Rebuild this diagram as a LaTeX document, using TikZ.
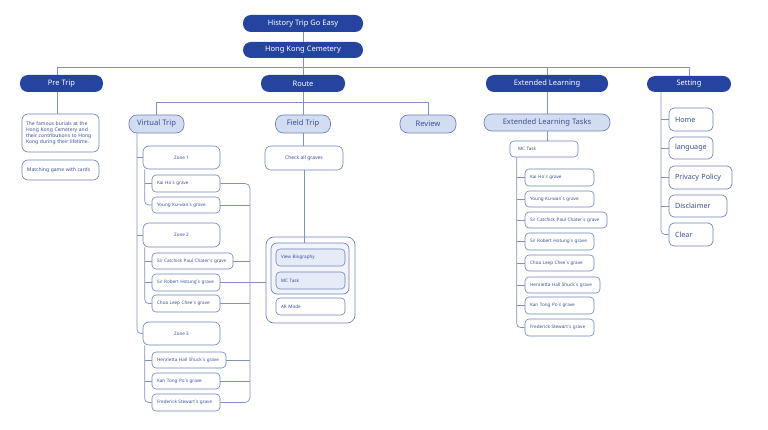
\documentclass[tikz,border=0pt]{standalone}
\usepackage{fontspec}
\setmainfont{Noto Sans}
\usetikzlibrary{calc}
\definecolor{dblue}{HTML}{2444A0}
\definecolor{lblue}{HTML}{D3DDF1}
\definecolor{bord}{HTML}{7083BA}
\definecolor{tblue}{HTML}{3B4F98}
\definecolor{lnc}{HTML}{8590C0}
\definecolor{vlight}{HTML}{F1F4FB}
\definecolor{ilight}{HTML}{E6ECF7}
\tikzset{
  pill/.style={fill=dblue, text=white, rounded corners=8pt, minimum height=17pt, inner sep=0pt, font=\fontsize{7.5}{9}\selectfont},
  soft/.style={fill=lblue, draw=bord, line width=0.7pt, text=tblue, rounded corners=8pt, minimum height=18pt, inner sep=0pt, font=\fontsize{7.6}{9}\selectfont},
  sbox/.style={draw=bord, fill=white, line width=0.6pt, text=tblue, rounded corners=4pt, inner sep=0pt, font=\fontsize{4.6}{5.5}\selectfont},
  gl/.style={sbox, align=left, inner xsep=5pt, text width=#1},
  setb/.style={draw=bord, fill=white, line width=0.7pt, text=tblue, rounded corners=5pt, inner sep=0pt, inner xsep=6pt, align=left, text width=#1, font=\fontsize{7.2}{9}\selectfont},
  conn/.style={draw=lnc, line width=0.7pt},
}
\begin{document}
\begin{tikzpicture}[x=1pt,y=-1pt]
\useasboundingbox[fill=white] (0,0) rectangle (768,430);
% top level
\node[pill, minimum width=120pt] (top) at (303,23.5) {History Trip Go Easy};
\node[pill, minimum width=120pt, minimum height=16pt] (hkc) at (303,50) {Hong Kong Cemetery};
\node[pill, minimum width=83pt] (pre) at (61.5,83.5) {Pre Trip};
\node[pill, minimum width=84pt] (route) at (303,83.5) {Route};
\node[pill, minimum width=122pt] (el) at (547,83.5) {Extended Learning};
\node[pill, minimum width=84pt, minimum height=16pt] (set) at (689,84) {Setting};
% second level
\node[soft, minimum width=55pt] (vt) at (156.5,124) {Virtual Trip};
\node[soft, minimum width=55pt] (ft) at (303,124) {Field Trip};
\node[soft, minimum width=56pt] (rev) at (428,124) {Review};
\node[soft, minimum width=126pt, minimum height=17pt] (elt) at (547,122.5) {Extended Learning Tasks};
% pre trip
\node[sbox, align=left, inner xsep=4pt, text width=69pt, minimum height=38pt, rounded corners=6pt, font=\fontsize{5}{6.2}\selectfont] (ptx) at (60.5,133) {The famous burials at the\\Hong Kong Cemetery and\\their contributions to Hong\\Kong during their lifetime.};
\node[sbox, align=left, inner xsep=5pt, text width=67pt, minimum height=20pt, rounded corners=6pt, font=\fontsize{5}{6.2}\selectfont] (pmg) at (60.5,170) {Matching game with cards};
% virtual trip
\node[sbox, minimum width=77pt, minimum height=23pt, rounded corners=6pt] (z1) at (181.5,157.5) {Zone 1};
\node[sbox, minimum width=77pt, minimum height=24pt, rounded corners=6pt] (z2) at (181.5,235) {Zone 2};
\node[sbox, minimum width=77pt, minimum height=23pt, rounded corners=6pt] (z3) at (181.5,333.5) {Zone 3};
\node[gl=58pt, minimum height=17pt] (kh) at (186,183.5) {Kai Ho´s grave};
\node[gl=58pt, minimum height=16pt] (yk) at (186,205) {Young Ku-wan´s grave};
\node[gl=71pt, minimum height=16pt] (ch) at (192.5,261) {Sir Catchick Paul Chater´s grave};
\node[gl=58pt, minimum height=17pt] (ho) at (186,282.5) {Sir Robert Hotung´s grave};
\node[gl=58pt, minimum height=17pt] (cl) at (186,303.5) {Choa Leep Chee´s grave};
\node[gl=64pt, minimum height=16pt] (hh) at (189,360) {Henrietta Hall Shuck´s grave};
\node[gl=58pt, minimum height=16pt] (kt) at (186,381) {Kan Tong Po´s grave};
\node[gl=58pt, minimum height=17pt] (fs) at (186,402.5) {Frederick Stewart´s grave};
% field trip
\node[sbox, minimum width=78pt, minimum height=24pt, rounded corners=6pt, font=\fontsize{5}{6}\selectfont] (cag) at (304,158) {Check all graves};
\node[draw=bord, line width=0.7pt, fill=white, rounded corners=8pt, minimum width=89pt, minimum height=86pt] (outer) at (310.5,280) {};
\node[draw=bord, line width=0.7pt, fill=vlight, rounded corners=6pt, minimum width=78pt, minimum height=51pt] (inner) at (310,268.5) {};
\node[gl=59pt, minimum height=17pt, fill=ilight] (vb) at (310.5,257.5) {View Biography};
\node[gl=59pt, minimum height=17pt, fill=ilight] (mc) at (310.5,280.5) {MC Task};
\node[gl=59pt, minimum height=17pt] (ar) at (310.5,306.5) {AR Mode};
% extended learning
\node[gl=52pt, minimum height=16pt, inner xsep=8pt] (emc) at (544,149) {MC Task};
\node[gl=59pt, minimum height=17pt] (e1) at (559.5,177.5) {Kai Ho´s grave};
\node[gl=59pt, minimum height=16pt] (e2) at (559.5,199) {Young Ku-wan´s grave};
\node[gl=72pt, minimum height=16pt] (e3) at (566,220) {Sir Catchick Paul Chater´s grave};
\node[gl=59pt, minimum height=17pt] (e4) at (559.5,241.5) {Sir Robert Hotung´s grave};
\node[gl=59pt, minimum height=16pt] (e5) at (559.5,263) {Choa Leep Chee´s grave};
\node[gl=65pt, minimum height=16pt] (e6) at (562.5,285) {Henrietta Hall Shuck´s grave};
\node[gl=59pt, minimum height=17pt] (e7) at (559.5,305.5) {Kan Tong Po´s grave};
\node[gl=59pt, minimum height=17pt] (e8) at (559.5,327.5) {Frederick Stewart´s grave};
% setting
\node[setb=32pt, minimum height=23pt] (home) at (691,119.5) {Home};
\node[setb=32pt, minimum height=22pt] (lang) at (691,148) {language};
\node[setb=51pt, minimum height=23pt] (priv) at (700.5,177.5) {Privacy Policy};
\node[setb=46pt, minimum height=22pt] (disc) at (698,206) {Disclaimer};
\node[setb=32pt, minimum height=23pt] (clr) at (691,234.5) {Clear};
% coordinates
\coordinate (hy) at (57,67);
\coordinate (ry) at (0,102);
\coordinate (vx) at (137,0);
\coordinate (rx) at (250,0);
\coordinate (sx) at (661,0);
\coordinate (z1x) at ($(z1.south west)+(2,0)$);
\coordinate (z2x) at ($(z2.south west)+(2,0)$);
\coordinate (z3x) at ($(z3.south west)+(2,0)$);
\coordinate (ex) at ($(emc.south west)+(7,0)$);
% connectors top
\draw[conn] (top.south) -- (hkc.north);
\draw[conn] (hkc.south) -- (route.north);
\draw[conn] (hy |- pre.north) -- (hy) -- (set.north |- hy) -- (set.north);
\draw[conn] (el.north |- hy) -- (el.north);
\draw[conn] (hy |- pre.south) -- (hy |- ptx.north);
\draw[conn] (vt.north) -- (vt.north |- ry) -- (rev.north |- ry) -- (rev.north);
\draw[conn] (route.south) -- (ft.north);
\draw[conn] (el.south) -- (elt.north);
\draw[conn] (elt.south) -- (elt.south |- emc.north);
% virtual trip tree
\draw[conn, rounded corners=4pt] (vx |- vt.south) |- (z3.west);
\draw[conn] (vx |- z1.west) -- (z1.west);
\draw[conn] (vx |- z2.west) -- (z2.west);
\draw[conn, rounded corners=4pt] (z1x) |- (yk.west);
\draw[conn] (z1x |- kh.west) -- (kh.west);
\draw[conn, rounded corners=4pt] (z2x) |- (cl.west);
\draw[conn] (z2x |- ch.west) -- (ch.west);
\draw[conn] (z2x |- ho.west) -- (ho.west);
\draw[conn, rounded corners=4pt] (z3x) |- (fs.west);
\draw[conn] (z3x |- hh.west) -- (hh.west);
\draw[conn] (z3x |- kt.west) -- (kt.west);
\draw[conn, rounded corners=5pt] (kh.east) -- (rx |- kh.east) -- (rx |- fs.east) -- (fs.east);
\draw[conn] (yk.east) -- (rx |- yk.east);
\draw[conn] (ch.east) -- (rx |- ch.east);
\draw[conn] (ho.east) -- (outer.west |- ho.east);
\draw[conn] (cl.east) -- (rx |- cl.east);
\draw[conn] (hh.east) -- (rx |- hh.east);
\draw[conn] (kt.east) -- (rx |- kt.east);
% field trip
\draw[conn] (ft.south) -- (ft.south |- cag.north);
\draw[conn] (cag.south) -- (cag.south |- inner.north);
% extended tree
\draw[conn, rounded corners=4pt] (ex) |- (e8.west);
\foreach \n in {e1,e2,e3,e4,e5,e6,e7}{
  \draw[conn] (ex |- \n.west) -- (\n.west);
}
% setting tree
\draw[conn, rounded corners=4pt] (sx |- set.south) |- (clr.west);
\foreach \n in {home,lang,priv,disc}{
  \draw[conn] (sx |- \n.west) -- (\n.west);
}
\end{tikzpicture}
\end{document}
